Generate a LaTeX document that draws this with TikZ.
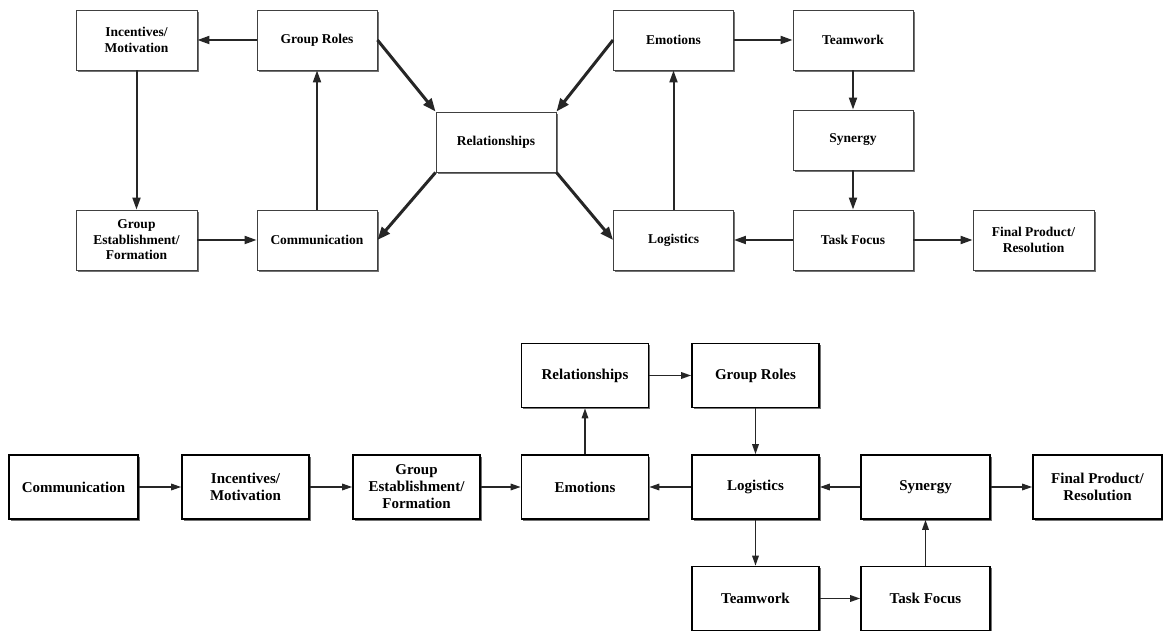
\documentclass[tikz,border=0pt]{standalone}
\usepackage{fontspec}
\setmainfont{Liberation Serif}
\usetikzlibrary{arrows.meta,shadows}
\begin{document}
\begin{tikzpicture}[x=1pt,y=-1pt,
  topbox/.style={draw=black!75, line width=0.9pt, fill=white, rectangle,
     minimum width=120pt, minimum height=60pt, inner sep=0pt, align=center,
     font=\fontsize{13.5}{15.5}\selectfont\bfseries,
     drop shadow={shadow xshift=1.6pt, shadow yshift=-1.6pt, fill=black!55, opacity=1}},
  botbox/.style={draw=black, line width=1.6pt, fill=white, rectangle,
     minimum width=127pt, minimum height=64pt, inner sep=0pt, align=center,
     font=\fontsize{15}{17}\selectfont\bfseries,
     drop shadow={shadow xshift=1.6pt, shadow yshift=-1.6pt, fill=black!55, opacity=1}},
  toparr/.style={draw=black!85, line width=2pt, -{Triangle[length=12pt,width=8pt]}},
  diagarr/.style={draw=black!85, line width=3pt, -{Triangle[length=13pt,width=10pt]}},
  botarr/.style={draw=black!85, line width=1.6pt, -{Triangle[length=10pt,width=6.5pt]}}
]
\useasboundingbox (0,0) rectangle (1163,631);
\fill[white] (0,0) rectangle (1163,631);

% ---------- top diagram ----------
\node[topbox, minimum width=121pt] (tInc) at (136.5,40) {Incentives/\\Motivation};
\node[topbox] (tGR) at (317,40) {Group Roles};
\node[topbox, minimum width=121pt] (tGE) at (136.5,240) {Group\\Establishment/\\Formation};
\node[topbox] (tCom) at (317,240) {Communication};
\node[topbox] (tRel) at (496,142) {Relationships};
\node[topbox] (tEmo) at (673.5,40) {Emotions};
\node[topbox] (tLog) at (673.5,240) {Logistics};
\node[topbox] (tTeam) at (853,40) {Teamwork};
\node[topbox] (tSyn) at (853,140) {Synergy};
\node[topbox] (tTask) at (853,240) {Task Focus};
\node[topbox, minimum width=121pt] (tFin) at (1033.5,240) {Final Product/\\Resolution};

\draw[toparr] (tGR.west) -- (tInc.east);
\draw[toparr] (tInc.south) -- (tGE.north);
\draw[toparr] (tGE.east) -- (tCom.west);
\draw[toparr] (tCom.north) -- (tGR.south);
\draw[diagarr] (tGR.east) -- (tRel.north west);
\draw[diagarr] (tRel.south west) -- (tCom.east);
\draw[diagarr] (tEmo.west) -- (tRel.north east);
\draw[diagarr] (tRel.south east) -- (tLog.west);
\draw[toparr] (tLog.north) -- (tEmo.south);
\draw[toparr] (tEmo.east) -- (tTeam.west);
\draw[toparr] (tTeam.south) -- (tSyn.north);
\draw[toparr] (tSyn.south) -- (tTask.north);
\draw[toparr] (tTask.west) -- (tLog.east);
\draw[toparr] (tTask.east) -- (tFin.west);

% ---------- bottom diagram ----------
\node[botbox, minimum width=129pt] (bCom) at (73.5,487) {Communication};
\node[botbox] (bInc) at (245.5,487) {Incentives/\\Motivation};
\node[botbox] (bGE) at (416.5,487) {Group\\Establishment/\\Formation};
\node[botbox] (bEmo) at (585,487) {Emotions};
\node[botbox] (bRel) at (585,375.5) {Relationships};
\node[botbox] (bGR) at (755.5,375.5) {Group Roles};
\node[botbox] (bLog) at (755.5,487) {Logistics};
\node[botbox] (bTeam) at (755.5,598.5) {Teamwork};
\node[botbox, minimum width=129pt] (bSyn) at (925.5,487) {Synergy};
\node[botbox, minimum width=129pt] (bTask) at (925.5,598.5) {Task Focus};
\node[botbox, minimum width=129pt] (bFin) at (1097.5,487) {Final Product/\\Resolution};

\draw[botarr] (bCom.east) -- (bInc.west);
\draw[botarr] (bInc.east) -- (bGE.west);
\draw[botarr] (bGE.east) -- (bEmo.west);
\draw[botarr] (bEmo.north) -- (bRel.south);
\draw[botarr] (bRel.east) -- (bGR.west);
\draw[botarr] (bGR.south) -- (bLog.north);
\draw[botarr] (bLog.west) -- (bEmo.east);
\draw[botarr] (bLog.south) -- (bTeam.north);
\draw[botarr] (bTeam.east) -- (bTask.west);
\draw[botarr] (bTask.north) -- (bSyn.south);
\draw[botarr] (bSyn.west) -- (bLog.east);
\draw[botarr] (bSyn.east) -- (bFin.west);
\end{tikzpicture}
\end{document}
